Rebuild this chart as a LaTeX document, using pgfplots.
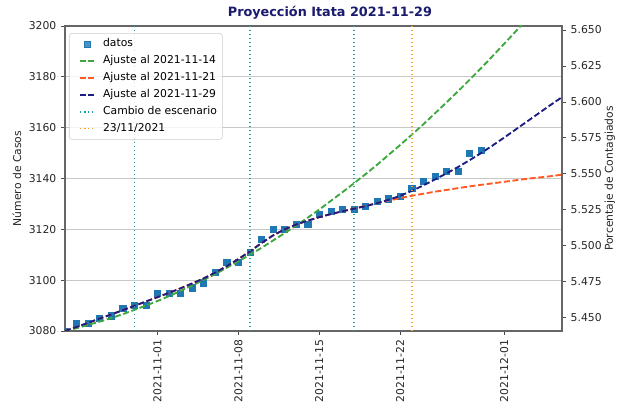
\documentclass[border=0pt]{standalone}
\usepackage{fontspec}
\setmainfont{DejaVu Sans}
\usepackage{pgfplots}
\pgfplotsset{compat=1.18}
\usepackage{pgfplotstable}
\definecolor{cdata}{HTML}{1F77B4}
\definecolor{cgreen}{HTML}{3DA83D}
\definecolor{corange}{HTML}{FF5A24}
\definecolor{cblue}{HTML}{1C1C85}
\definecolor{cteal}{HTML}{1F9E9E}
\definecolor{cvorange}{HTML}{F7A21B}
\definecolor{ctitle}{HTML}{1A1A6E}

\pgfplotstableread{
d v
-8 3080
-7 3083
-6 3083
-5 3085
-4 3086
-3 3089
-2 3090
-1 3090
0 3095
1 3095
2 3095
3 3097
4 3099
5 3103
6 3107
7 3107
8 3111
9 3116
10 3120
11 3120
12 3122
13 3122
14 3126
15 3127
16 3128
17 3128
18 3129
19 3131
20 3132
21 3133
22 3136
23 3139
24 3141
25 3143
26 3143
27 3150
28 3151
}\datos

\pgfplotstableread{
d v
-8 3080.0
-7 3081.1
-6 3082.4
-5 3083.7
-4 3085.1
-3 3086.6
-2 3088.3
-1 3090.0
0 3091.8
1 3093.7
2 3095.8
3 3097.9
4 3100.1
5 3102.4
6 3104.9
7 3107.4
8 3110.0
9 3112.7
10 3115.6
11 3118.5
12 3121.5
13 3124.6
14 3127.8
15 3131.2
16 3134.6
17 3138.1
18 3141.7
19 3145.4
20 3149.3
21 3153.2
22 3157.2
23 3161.3
24 3165.6
25 3169.9
26 3174.3
27 3178.8
28 3183.4
29 3188.2
30 3193.0
31 3197.9
32 3202.9
}\ajusteA

\pgfplotstableread{
d v
-8 3080.0
-7 3081.6
-6 3083.2
-5 3084.9
-4 3086.5
-3 3088.2
-2 3089.9
-1 3091.6
0 3093.3
1 3095.0
2 3096.8
3 3098.7
4 3100.7
5 3103.0
6 3105.5
7 3108.3
8 3111.3
9 3114.6
10 3117.6
11 3120.0
12 3121.9
13 3123.4
14 3124.8
15 3126.0
16 3127.1
17 3128.2
18 3129.3
19 3130.3
20 3131.3
21 3132.3
22 3133.2
23 3134.0
24 3134.8
25 3135.5
26 3136.2
27 3136.9
28 3137.5
29 3138.1
30 3138.7
31 3139.3
32 3139.9
33 3140.4
34 3140.9
35 3141.5
}\ajusteB

\pgfplotstableread{
d v
-8 3080.0
-7 3081.6
-6 3083.2
-5 3084.9
-4 3086.5
-3 3088.2
-2 3089.9
-1 3091.6
0 3093.3
1 3095.0
2 3096.8
3 3098.7
4 3100.7
5 3103.0
6 3105.5
7 3108.3
8 3111.3
9 3114.6
10 3117.6
11 3120.0
12 3121.9
13 3123.4
14 3124.8
15 3126.0
16 3127.1
17 3128.1
18 3129.1
19 3130.3
20 3131.6
21 3133.2
22 3135.1
23 3137.3
24 3139.6
25 3142.0
26 3144.5
27 3147.2
28 3150.0
29 3153.0
30 3156.1
31 3159.3
32 3162.5
33 3165.7
34 3168.9
35 3172.0
}\ajusteC

\newcommand{\fs}{\fontsize{8.1}{9.5}\selectfont}

\begin{document}
\begin{tikzpicture}
\useasboundingbox (-48.75pt,-57pt) rectangle (414.75pt,248.25pt);
\begin{axis}[
  at={(0,0)}, anchor=south west,
  width=372.75pt, height=228.75pt, scale only axis,
  xmin=-8, xmax=35, ymin=3080, ymax=3200,
  xtick={0,7,14,21,30},
  xticklabels={2021-11-01,2021-11-08,2021-11-15,2021-11-22,2021-12-01},
  xticklabel style={rotate=90, anchor=east, font=\fs, text=black!85},
  ytick={3080,3100,3120,3140,3160,3180,3200},
  yticklabel style={font=\fs, text=black!85},
  /pgf/number format/1000 sep={},
  /pgf/number format/assume math mode=true,
  xtick pos=bottom, ytick pos=left,
  tick align=outside, major tick length=3pt,
  every tick/.style={black!70, line width=0.6pt},
  axis line style={black!60, line width=0.8pt},
  ymajorgrids, grid style={black!22, line width=0.7pt},
  clip marker paths=true,
  ylabel={Número de Casos},
  every axis y label/.style={at={(axis description cs:-0.0966,0.5)}, rotate=90, anchor=center, font=\fs, text=black!85},
  title={Proyección Itata 2021-11-29},
  every axis title/.style={at={(axis description cs:0.533,1.0426)}, anchor=center, font=\fontsize{9.6}{11}\selectfont\bfseries, text=ctitle},
  legend image code/.code={\path (-5pt,0pt); \draw[mark repeat=2,mark phase=2,#1] plot coordinates {(0pt,0pt) (5.8pt,0pt) (11.6pt,0pt)}; \path (15pt,0pt);},
  legend style={at={(axis description cs:0.008,0.977)}, anchor=north west,
    draw=black!20, rounded corners=2pt, fill=white, fill opacity=0.8, text opacity=1,
    font=\fs, row sep=0.6pt, inner sep=2pt,
    nodes={inner sep=2pt, text height=6.2pt, text depth=1.9pt}},
  legend cell align=left,
]
\addplot[only marks, mark=square*, mark size=2.3pt, mark options={draw=cdata, fill=cdata}] table[x=d,y=v] {\datos};
\addlegendentry{datos}
\addplot[cgreen, line width=1.4pt, dash pattern=on 4.5pt off 2pt] table[x=d,y=v] {\ajusteA};
\addlegendentry{Ajuste al 2021-11-14}
\addplot[corange, line width=1.4pt, dash pattern=on 4.5pt off 2pt] table[x=d,y=v] {\ajusteB};
\addlegendentry{Ajuste al 2021-11-21}
\addplot[cblue, line width=1.4pt, dash pattern=on 4.5pt off 2pt] table[x=d,y=v] {\ajusteC};
\addlegendentry{Ajuste al 2021-11-29}
\addplot[cteal, line width=1.2pt, dash pattern=on 1.1pt off 1.9pt] coordinates {(-2,3080) (-2,3200)};
\addlegendentry{Cambio de escenario}
\addplot[cteal, line width=1.2pt, dash pattern=on 1.1pt off 1.9pt, forget plot] coordinates {(8,3080) (8,3200)};
\addplot[cteal, line width=1.2pt, dash pattern=on 1.1pt off 1.9pt, forget plot] coordinates {(17,3080) (17,3200)};
\addplot[cvorange, line width=1.2pt, dash pattern=on 1.1pt off 1.9pt] coordinates {(22,3080) (22,3200)};
\addlegendentry{23/11/2021}
\end{axis}
\begin{axis}[
  at={(0,0)}, anchor=south west,
  width=372.75pt, height=228.75pt, scale only axis,
  xmin=-8, xmax=35, ymin=5.44076, ymax=5.65278,
  axis x line=none, axis y line*=right,
  ytick={5.45,5.475,5.5,5.525,5.55,5.575,5.6,5.625,5.65},
  scaled y ticks=false,
  yticklabel style={font=\fs, text=black!85, /pgf/number format/.cd, fixed, fixed zerofill, precision=3, assume math mode=true},
  tick align=outside, major tick length=3pt,
  every tick/.style={black!70, line width=0.6pt},
  axis line style={black!60, line width=0.8pt},
  ylabel={Porcentaje de Contagiados},
  every axis y label/.style={at={(axis description cs:1.0966,0.5)}, rotate=90, anchor=center, font=\fs, text=black!85},
]
\addplot[draw=none, forget plot] coordinates {(0,5.5)};
\end{axis}
\end{tikzpicture}
\end{document}
